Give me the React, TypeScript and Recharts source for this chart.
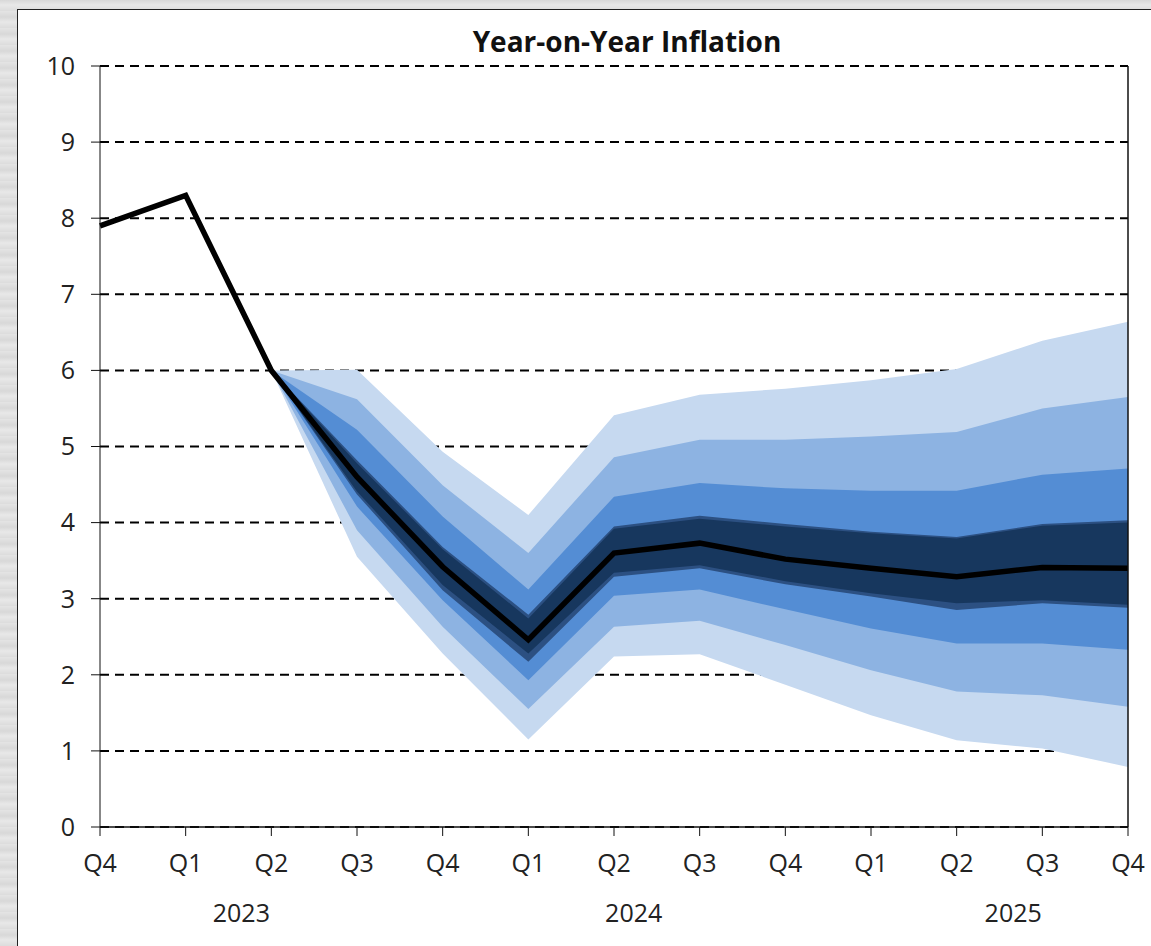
import {
  Area,
  CartesianGrid,
  ComposedChart,
  Line,
  XAxis,
  YAxis,
} from 'recharts';

// quarters shown on the x axis (2022 Q4 .. 2025 Q4)
const periods = [
  '2022 Q4', '2023 Q1', '2023 Q2', '2023 Q3', '2023 Q4',
  '2024 Q1', '2024 Q2', '2024 Q3', '2024 Q4',
  '2025 Q1', '2025 Q2', '2025 Q3', '2025 Q4',
];

// central projection, y/y %
const central = [7.9, 8.3, 6.0, 4.6, 3.42, 2.46, 3.6, 3.73, 3.52, 3.4, 3.29, 3.41, 3.4];

// fan bands start at 2023 Q2
const fanStart = 2;
const upper90 = [6.0, 6.01, 4.93, 4.1, 5.41, 5.68, 5.76, 5.87, 6.02, 6.39, 6.64];
const upper70 = [6.0, 5.62, 4.49, 3.6, 4.86, 5.09, 5.09, 5.13, 5.19, 5.5, 5.65];
const upper50 = [6.0, 5.22, 4.08, 3.12, 4.34, 4.52, 4.45, 4.42, 4.42, 4.63, 4.71];
const upper30 = [6.0, 4.82, 3.68, 2.79, 3.95, 4.09, 3.98, 3.88, 3.81, 3.98, 4.03];
const upper20 = [6.0, 4.78, 3.65, 2.74, 3.92, 4.05, 3.95, 3.86, 3.79, 3.96, 4.0];
const lower20 = [6.0, 4.41, 3.18, 2.28, 3.34, 3.44, 3.23, 3.07, 2.94, 2.98, 2.92];
const lower30 = [6.0, 4.37, 3.11, 2.17, 3.29, 3.4, 3.19, 3.03, 2.85, 2.94, 2.88];
const lower50 = [6.0, 4.21, 2.98, 1.93, 3.04, 3.12, 2.86, 2.61, 2.41, 2.41, 2.33];
const lower70 = [6.0, 3.9, 2.63, 1.55, 2.63, 2.71, 2.39, 2.06, 1.78, 1.73, 1.58];
const lower90 = [6.0, 3.55, 2.28, 1.15, 2.24, 2.27, 1.87, 1.47, 1.14, 1.03, 0.79];

const yTicks = [0, 1, 2, 3, 4, 5, 6, 7, 8, 9, 10];

// year labels under the quarters (position in quarter index units)
const years = ['2023', '2024', '2025'];
const yearPos = [1.65, 6.23, 10.66];

const data = periods.map((period, i) => {
  const j = i - fanStart;
  const band = (lo: number[], hi: number[]) => (j >= 0 ? [lo[j], hi[j]] : null);
  return {
    period,
    idx: i,
    central: central[i],
    b90: band(lower90, upper90),
    b70: band(lower70, upper70),
    b50: band(lower50, upper50),
    b30: band(lower30, upper30),
    b20: band(lower20, upper20),
  };
});

const font = '"Open Sans", sans-serif';
const labelStyle = { fontSize: 25, fill: '#222', fontFamily: font };

export default function App() {
  return (
    <div
      style={{
        position: 'absolute',
        left: 0,
        top: 0,
        width: 1151,
        height: 946,
        overflow: 'hidden',
        background:
          'repeating-linear-gradient(0deg, #dcdcdc 0px, #e8e8e8 6px, #d8d8d8 11px, #e4e4e4 17px)',
      }}
    >
      <div
        style={{
          position: 'absolute',
          left: 17,
          top: 9,
          width: 1200,
          height: 1000,
          background: '#fff',
          borderLeft: '1.5px solid #222',
          borderTop: '1.5px solid #222',
        }}
      />
      <svg
        width={1151}
        height={70}
        style={{ position: 'absolute', left: 0, top: 0 }}
      >
        <text
          x={627}
          y={52}
          textAnchor="middle"
          style={{ fontFamily: font, fontWeight: 700, fontSize: 28, fill: '#111' }}
        >
          Year-on-Year Inflation
        </text>
      </svg>
      <div style={{ position: 'absolute', left: 0, top: 0 }}>
        <ComposedChart
          width={1151}
          height={946}
          data={data}
          margin={{ top: 66, right: 22, bottom: 0, left: 0 }}
        >
          <CartesianGrid
            vertical={false}
            stroke="#000"
            strokeWidth={2}
            strokeDasharray="9 6"
          />
          <XAxis
            dataKey="period"
            scale="point"
            padding={{ left: 0, right: 0 }}
            interval={0}
            height={50}
            tickSize={9}
            tickMargin={18}
            tickFormatter={(p: string) => p.split(' ')[1]}
            tick={labelStyle}
            axisLine={{ stroke: '#111', strokeWidth: 1.5 }}
            tickLine={{ stroke: '#111' }}
          />
          <XAxis
            xAxisId="yr"
            dataKey="idx"
            type="number"
            domain={[0, 12]}
            ticks={yearPos}
            tickFormatter={(v: number) => years[yearPos.indexOf(v)]}
            height={69}
            tickSize={0}
            tickMargin={27}
            axisLine={false}
            tickLine={false}
            tick={labelStyle}
          />
          <YAxis
            domain={[0, 10]}
            ticks={yTicks}
            interval={0}
            width={100}
            tickSize={9}
            tickMargin={16}
            tick={labelStyle}
            axisLine={{ stroke: '#111', strokeWidth: 1 }}
            tickLine={{ stroke: '#111' }}
          />
          <YAxis
            yAxisId="right"
            orientation="right"
            domain={[0, 10]}
            width={1}
            tick={false}
            tickLine={false}
            axisLine={{ stroke: '#111', strokeWidth: 1.5 }}
          />
          <Area dataKey="b90" fill="#c6d9f0" fillOpacity={1} stroke="none" dot={false} activeDot={false} isAnimationActive={false} />
          <Area dataKey="b70" fill="#8db3e2" fillOpacity={1} stroke="none" dot={false} activeDot={false} isAnimationActive={false} />
          <Area dataKey="b50" fill="#548dd4" fillOpacity={1} stroke="none" dot={false} activeDot={false} isAnimationActive={false} />
          <Area dataKey="b30" fill="#2c5082" fillOpacity={1} stroke="none" dot={false} activeDot={false} isAnimationActive={false} />
          <Area dataKey="b20" fill="#17375e" fillOpacity={1} stroke="none" dot={false} activeDot={false} isAnimationActive={false} />
          <Line
            dataKey="central"
            stroke="#000"
            strokeWidth={5.5}
            dot={false}
            activeDot={false}
            isAnimationActive={false}
          />
        </ComposedChart>
      </div>
    </div>
  );
}
